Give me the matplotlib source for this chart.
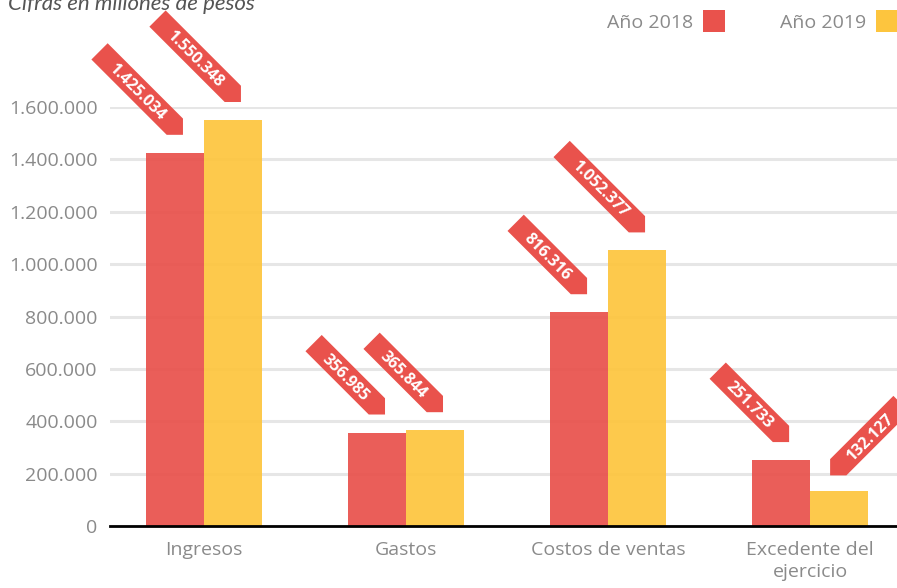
import numpy as np
import matplotlib
matplotlib.use("Agg")
import matplotlib.pyplot as plt
from matplotlib.patches import Polygon, Rectangle
from matplotlib.transforms import Affine2D, ScaledTranslation

# ---- data ----
categories = ["Ingresos", "Gastos", "Costos de ventas", "Excedente del\nejercicio"]
series_names = ["Año 2018", "Año 2019"]
values_2018 = [1425034, 356985, 816316, 251733]
values_2019 = [1550348, 365844, 1052377, 132127]
yticks = [0, 200000, 400000, 600000, 800000, 1000000, 1200000, 1400000, 1600000]
title = "Cifras en millones de pesos"

RED = "#E9524C"
YELLOW = "#FDC53E"
LABEL_RED = "#E9524C"
GRAY = "#8a8a8a"

plt.rcParams['font.family'] = ['Open Sans', 'DejaVu Sans']

W, H = 897, 588
fig = plt.figure(figsize=(W / 100, H / 100), dpi=100)
ax = fig.add_axes([110 / W, 62 / H, (W - 110) / W, (526 - 107) / H])

x = np.arange(len(categories))
bw = 0.287
series = [values_2018, values_2019]
colors = [RED, YELLOW]
offsets = [-bw / 2, bw / 2]

ax.set_ylim(0, 1600000)
ax.set_xlim(-0.465, 3.43)

ax.set_yticks(yticks)
ax.set_yticklabels([f"{v:,}".replace(",", ".") for v in yticks])
ax.grid(axis='y', color='#e6e6e6', linewidth=2.2, zorder=0)
ax.set_axisbelow(True)

for vals, col, off in zip(series, colors, offsets):
    ax.bar(x + off, vals, width=bw, color=col, alpha=0.93, zorder=2, linewidth=0)

ax.set_xticks(x)
ax.set_xticklabels(categories, fontsize=14, color=GRAY, linespacing=1.3)
ax.tick_params(axis='x', length=0, pad=11)
ax.tick_params(axis='y', length=0, pad=9, labelsize=14, labelcolor=GRAY)
for s in ['top', 'right', 'left']:
    ax.spines[s].set_visible(False)
ax.spines['bottom'].set_color('black')
ax.spines['bottom'].set_linewidth(2)
ax.spines['bottom'].set_zorder(3)

# ---- callout labels ----
h = 23.0
n_last = len(categories) - 1
for si, (vals, off) in enumerate(zip(series, offsets)):
    for ci, v in enumerate(vals):
        xd = x[ci] + off
        txt = f"{v:,}".replace(",", ".")
        Lr = len(txt) * 8.5 + 30
        flip = (si == len(series) - 1 and ci == n_last)
        if not flip:
            angle = -45
            dx, dy = 8, 18
            verts = [(-h / 2 - Lr, h / 2), (-h / 2, h / 2), (0, 0),
                     (-h / 2, -h / 2), (-h / 2 - Lr, -h / 2)]
            cx = -h / 2 - Lr / 2 + 2
        else:
            angle = 45
            dx, dy = -9, 16
            verts = [(h / 2 + Lr, h / 2), (h / 2, h / 2), (0, 0),
                     (h / 2, -h / 2), (h / 2 + Lr, -h / 2)]
            cx = h / 2 + Lr / 2 - 2
        tr = Affine2D().rotate_deg(angle).translate(dx, dy) + ScaledTranslation(xd, v, ax.transData)
        poly = Polygon(verts, closed=True, transform=tr, facecolor=LABEL_RED,
                       edgecolor='none', zorder=5, clip_on=False)
        ax.add_patch(poly)
        a = np.deg2rad(angle)
        ox = cx * np.cos(a) + dx
        oy = cx * np.sin(a) + dy
        ax.text(xd, v, txt, transform=ax.transData + Affine2D().translate(ox, oy),
                rotation=angle, rotation_mode='anchor', ha='center', va='center_baseline',
                color='white', fontsize=11.5, fontweight='bold', zorder=6, clip_on=False)

# ---- title ----
fig.text(8 / W, 1 - 10 / H, title, fontsize=16, style='italic', color='#555555',
         ha='left', va='baseline', family=['Lato', 'DejaVu Sans'])

# ---- legend ----
leg_text_right = [693, 866]
sq_left = [703, 876]
for name, col, tr_, sl in zip(series_names, colors, leg_text_right, sq_left):
    fig.text(tr_ / W, 1 - 28 / H, name, fontsize=14, color=GRAY, ha='right', va='baseline')
    fig.patches.append(Rectangle((sl / W, 1 - 32 / H), 22 / W, 22 / H,
                                 transform=fig.transFigure, facecolor=col,
                                 edgecolor='none', figure=fig))

fig.savefig("out.png", dpi=100)
